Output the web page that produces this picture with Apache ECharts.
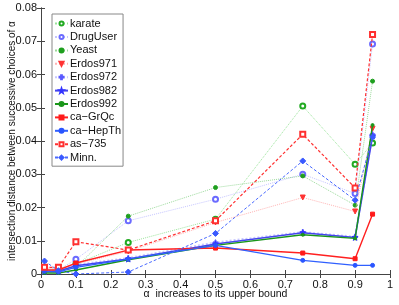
<!DOCTYPE html>
<html><head><meta charset="utf-8">
<script src="https://cdn.jsdelivr.net/npm/echarts@6/dist/echarts.min.js"></script>
<style>html,body{margin:0;padding:0;background:#fff}#c{width:399px;height:305px}</style>
</head><body><div id="c"></div>
<script>
const alphas = [0.01, 0.05, 0.1, 0.25, 0.5, 0.75, 0.9, 0.95];
const seriesNames = ['karate','DrugUser','Yeast','Erdos971','Erdos972','Erdos982','Erdos992','ca\u2212GrQc','ca\u2212HepTh','as\u2212735','Minn.'];
const karate   = [0.0015, 0.0015, 0.0030, 0.0095, 0.0165, 0.0505, 0.0330, 0.0394];
const drugUser = [0.0015, 0.0012, 0.0044, 0.0160, 0.0225, 0.0300, 0.0242, 0.0692];
const yeast    = [0.0008, 0.0008, 0.0020, 0.0174, 0.0260, 0.0295, 0.0207, 0.0580];
const erdos971 = [0.0020, 0.0015, 0.0030, 0.0068, 0.0155, 0.0230, 0.0188, 0.0437];
const erdos972 = [0.0010, 0.0010, 0.0028, 0.0048, 0.0095, 0.0126, 0.0112, 0.0420];
const erdos982 = [0.0008, 0.0008, 0.0025, 0.0045, 0.0090, 0.0124, 0.0110, 0.0415];
const erdos992 = [0.0003, 0.0003, 0.0012, 0.0043, 0.0086, 0.0118, 0.0107, 0.0448];
const caGrQc   = [0.0012, 0.0012, 0.0033, 0.0072, 0.0078, 0.0063, 0.0046, 0.0180];
const caHepTh  = [0.0008, 0.0006, 0.0020, 0.0045, 0.0086, 0.0041, 0.0026, 0.0026];
const as735    = [0.0020, 0.0020, 0.0097, 0.0072, 0.0160, 0.0420, 0.0259, 0.0720];
const minn     = [0.0039, 0.0010, 0.0000, 0.0006, 0.0122, 0.0340, 0.0222, 0.0412];
const xTicks = [0,0.1,0.2,0.3,0.4,0.5,0.6,0.7,0.8,0.9,1];
const yTicks = [0,0.01,0.02,0.03,0.04,0.05,0.06,0.07,0.08];

const values = [karate, drugUser, yeast, erdos971, erdos972, erdos982, erdos992, caGrQc, caHepTh, as735, minn];
const plus = 'path://M4,0L6,0L6,4L10,4L10,6L6,6L6,10L4,10L4,6L0,6L0,4L4,4Z';
const star = 'path://M5,0L6.2,3.5L10,3.8L7,6.1L8.1,10L5,7.7L1.9,10L3,6.1L0,3.8L3.8,3.5Z';
const styles = [
  {c:'#22aa22', lc:'#9be39b', t:'dotted', w:1, s:'emptyCircle', ss:5},
  {c:'#6b6bff', lc:'#c4c4ff', t:'dotted', w:1, s:'emptyCircle', ss:5},
  {c:'#1f9f1f', lc:'#9bd99b', t:'dotted', w:1, s:'circle', ss:4},
  {c:'#ff3333', lc:'#ffb3b3', t:'dotted', w:1, s:'triangle', ss:5, rot:180},
  {c:'#5a5aff', lc:'#c8c8ff', t:'dotted', w:2, s:plus, ss:5},
  {c:'#3333ff', lc:'#4444ee', t:'solid', w:1.6, s:star, ss:6},
  {c:'#1a961a', lc:'#1a961a', t:'solid', w:1.4, s:'circle', ss:3},
  {c:'#ff1a1a', lc:'#ff2020', t:'solid', w:1.4, s:'rect', ss:4},
  {c:'#2a55ff', lc:'#3060ff', t:'solid', w:1.2, s:'circle', ss:4},
  {c:'#ff3030', lc:'#ff3030', t:[3,2], w:1.2, s:'emptyRect', ss:5},
  {c:'#3a5aff', lc:'#4a6aff', t:[3,2], w:1, s:'diamond', ss:6}
];
const series = seriesNames.map((n,i)=>({
  name:n, type:'line', data: alphas.map((a,j)=>[a, values[i][j]]),
  symbol: styles[i].s, symbolSize: styles[i].ss, symbolRotate: styles[i].rot||0,
  lineStyle:{color:styles[i].lc, type:styles[i].t, width:styles[i].w},
  itemStyle:{color:styles[i].c, borderColor:styles[i].c, borderWidth:1},
  emphasis:{disabled:true}, animation:false, z: 2+i
}));
const font = 'Liberation Sans';
const chart = echarts.init(document.getElementById('c'));
chart.setOption({
  animation:false,
  grid:{left:41, right:9, top:8, bottom:31, containLabel:false, outerBoundsMode:'none'},
  legend:{
    orient:'vertical', left:52, top:14,
    padding:[3,2,2,2], itemGap:0.2, itemWidth:13, itemHeight:5,
    backgroundColor:'#fff', borderColor:'#888', borderWidth:1,
    textStyle:{fontFamily:font, fontSize:11, lineHeight:13.2, color:'#111', padding:[0,0,0,-3]},
    data: seriesNames
  },
  xAxis:[
    {type:'value', min:0, max:1, interval:0.1, position:'bottom',
     axisLine:{lineStyle:{color:'#444'}}, axisTick:{inside:true, length:4, lineStyle:{color:'#444'}},
     axisLabel:{fontFamily:font, fontSize:11, color:'#111', margin:5,
       formatter:v=>{const t=xTicks.find(x=>Math.abs(x-v)<1e-9);return t===undefined?'':String(t);}},
     splitLine:{show:false},
     name:'\u03b1  increases to its upper bound', nameLocation:'middle', nameGap:11, nameMoveOverlap:false,
     nameTextStyle:{fontFamily:font, fontSize:10.5, color:'#111', verticalAlign:'top', padding:[4,0,0,0]}},
    {type:'value', min:0, max:1, interval:0.1, position:'top',
     axisLine:{lineStyle:{color:'#444'}}, axisTick:{inside:true, length:4, lineStyle:{color:'#444'}},
     axisLabel:{show:false}, splitLine:{show:false}}
  ],
  yAxis:[
    {type:'value', min:0, max:0.08, interval:0.01, position:'left',
     axisLine:{show:true, lineStyle:{color:'#444'}}, axisTick:{show:true, inside:true, length:4, lineStyle:{color:'#444'}},
     axisLabel:{fontFamily:font, fontSize:11, color:'#111', margin:4,
       formatter:v=>{const t=yTicks.find(x=>Math.abs(x-v)<1e-9);return t===undefined?'':String(t);}},
     splitLine:{show:false},
     name:'intersection distance between successive choices of \u03b1', nameLocation:'middle', nameGap:24, nameMoveOverlap:false,
     nameTextStyle:{fontFamily:font, fontSize:10, color:'#111'}},
    {type:'value', min:0, max:0.08, interval:0.01, position:'right',
     axisLine:{show:true, lineStyle:{color:'#444'}}, axisTick:{show:true, inside:true, length:4, lineStyle:{color:'#444'}},
     axisLabel:{show:false}, splitLine:{show:false}}
  ],
  series: series
});
</script></body></html>
